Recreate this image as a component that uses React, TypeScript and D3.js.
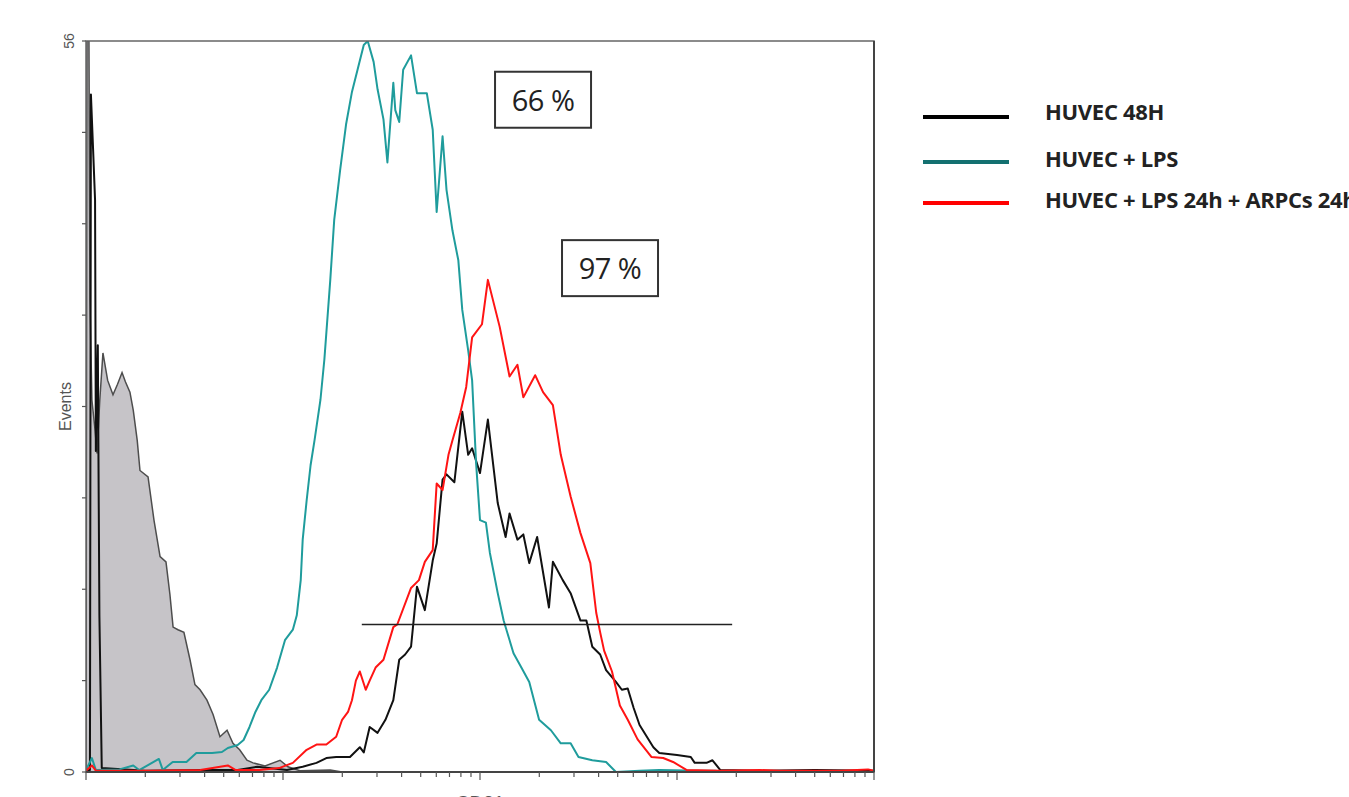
import * as d3 from "d3";
import { useEffect } from "react";

// x values are log10 of fluorescence intensity, y values are event counts
const grayLog = [0, 0.005, 0.015, 0.02, 0.03, 0.046, 0.056, 0.07, 0.086, 0.11, 0.137, 0.16, 0.183, 0.2, 0.223, 0.24, 0.26, 0.274, 0.315, 0.345, 0.376, 0.406, 0.426, 0.442, 0.467, 0.497, 0.528, 0.553, 0.579, 0.614, 0.645, 0.68, 0.716, 0.746, 0.78, 0.817, 0.848, 0.909, 0.985, 1.025, 1.086, 1.24, 1.3];
const grayEvents = [0, 56, 56, 36.2, 28.5, 26.2, 24.4, 28.5, 32.1, 30.0, 28.9, 29.7, 30.6, 29.9, 29.1, 27.7, 25.4, 23.1, 22.6, 19.3, 16.5, 16.1, 13.6, 11.1, 10.9, 10.7, 8.6, 6.7, 6.3, 5.5, 4.4, 2.7, 3.2, 2.2, 1.7, 0.9, 0.7, 0.46, 0.9, 0.4, 0.1, 0.15, 0];

const blackLog = [0, 0.02, 0.025, 0.036, 0.046, 0.05, 0.06, 0.068, 0.08, 0.3, 0.6, 0.77, 0.87, 1.02, 1.1, 1.17, 1.22, 1.27, 1.34, 1.39, 1.41, 1.44, 1.48, 1.52, 1.56, 1.59, 1.62, 1.65, 1.68, 1.72, 1.76, 1.78, 1.81, 1.83, 1.87, 1.91, 1.94, 1.96, 2.0, 2.04, 2.09, 2.13, 2.15, 2.19, 2.22, 2.25, 2.29, 2.35, 2.37, 2.42, 2.46, 2.51, 2.54, 2.57, 2.61, 2.64, 2.69, 2.72, 2.75, 2.78, 2.81, 2.88, 2.91, 3.0, 3.07, 3.09, 3.15, 3.18, 3.22, 3.42, 3.7, 4.0];
const blackEvents = [0.1, 0.15, 51.9, 47.7, 43.8, 24.6, 32.7, 12, 0.3, 0.1, 0.15, 0.15, 0.4, 0.15, 0.4, 0.7, 1.07, 1.15, 1.15, 1.9, 1.5, 3.45, 3.0, 4.0, 5.5, 8.6, 9.0, 9.6, 14.2, 12.4, 16.2, 17.5, 22.4, 22.8, 22.2, 27.6, 24.3, 24.8, 22.9, 27.0, 20.6, 18.0, 19.8, 17.8, 18.2, 16.0, 18.0, 12.6, 16.1, 14.7, 13.7, 11.6, 11.6, 9.6, 9.0, 7.8, 6.9, 6.3, 6.4, 4.9, 3.6, 1.9, 1.46, 1.3, 1.15, 0.7, 0.7, 0.9, 0.15, 0.1, 0.15, 0.1];

const tealLog = [0, 0.03, 0.05, 0.17, 0.24, 0.27, 0.37, 0.39, 0.44, 0.51, 0.56, 0.64, 0.69, 0.72, 0.77, 0.8, 0.83, 0.86, 0.89, 0.93, 0.97, 1.01, 1.05, 1.07, 1.09, 1.1, 1.12, 1.14, 1.16, 1.19, 1.21, 1.24, 1.26, 1.29, 1.32, 1.35, 1.38, 1.41, 1.43, 1.46, 1.48, 1.51, 1.53, 1.56, 1.57, 1.59, 1.61, 1.65, 1.68, 1.73, 1.76, 1.78, 1.81, 1.83, 1.86, 1.89, 1.91, 1.94, 1.96, 1.98, 2.0, 2.03, 2.05, 2.09, 2.12, 2.17, 2.21, 2.25, 2.3, 2.36, 2.41, 2.46, 2.5, 2.57, 2.64, 2.69, 2.81, 2.91, 3.12, 3.2];
const tealEvents = [0.15, 1.07, 0.15, 0.2, 0.5, 0.15, 1.0, 0.15, 0.77, 0.77, 1.46, 1.46, 1.53, 1.84, 2.07, 2.45, 3.45, 4.6, 5.5, 6.3, 8.0, 10.1, 10.9, 12.0, 14.7, 17.8, 20.8, 23.5, 25.4, 28.5, 31.6, 37.7, 42.3, 46.1, 49.6, 52.1, 53.9, 55.7, 56.0, 54.4, 52.3, 50.0, 46.7, 52.8, 50.7, 49.8, 53.8, 54.9, 52.0, 52.0, 49.2, 42.9, 48.7, 44.6, 41.5, 39.2, 35.4, 32.3, 30.0, 23.7, 19.3, 19.1, 16.8, 13.7, 11.6, 9.1, 8.0, 6.9, 4.0, 3.2, 2.2, 2.2, 1.15, 0.9, 0.77, 0, 0.1, 0.15, 0.1, 0.1];

const redLog = [0, 0.03, 0.05, 0.32, 0.58, 0.72, 0.76, 0.88, 0.98, 1.05, 1.12, 1.17, 1.22, 1.27, 1.3, 1.33, 1.35, 1.37, 1.39, 1.42, 1.44, 1.47, 1.51, 1.56, 1.58, 1.65, 1.69, 1.72, 1.76, 1.78, 1.81, 1.84, 1.86, 1.9, 1.93, 1.96, 2.01, 2.04, 2.1, 2.15, 2.19, 2.22, 2.28, 2.32, 2.37, 2.41, 2.46, 2.51, 2.56, 2.59, 2.61, 2.63, 2.67, 2.71, 2.75, 2.8, 2.87, 2.93, 2.98, 3.05, 3.22, 3.42, 3.52, 3.83, 3.97, 4.0];
const redEvents = [0.1, 0.5, 0.1, 0.1, 0.15, 0.5, 0.15, 0.15, 0.3, 0.7, 1.7, 2.1, 2.1, 2.7, 4.0, 4.6, 5.5, 7.0, 7.7, 6.3, 7.0, 8.0, 8.6, 11.1, 11.3, 14.1, 14.7, 16.1, 17.0, 22.1, 21.6, 24.3, 25.4, 27.5, 29.5, 33.3, 34.3, 37.7, 34.1, 30.3, 31.2, 28.7, 30.4, 29.1, 28.1, 24.3, 21.1, 18.3, 16.0, 12.2, 10.7, 9.3, 7.7, 5.1, 4.0, 2.5, 1.15, 1.07, 0.77, 0.15, 0.1, 0.15, 0.1, 0.1, 0.2, 0.1];

const legendLabels = ["HUVEC 48H", "HUVEC + LPS", "HUVEC + LPS 24h + ARPCs 24h"];
const legendColors = ["#000000", "#137070", "#ff0000"];

const gateLog = [1.4, 3.28];
const gateEvents = 11.3;
const boxes = [
  { label: "66 %", log: 2.32, events: 51.5 },
  { label: "97 %", log: 2.66, events: 38.6 },
];

const W = 1349;
const H = 797;
const margin = { left: 86, right: 475, top: 41, bottom: 25 };

export default function App() {
  useEffect(() => {
    document.body.style.margin = "0";
  }, []);

  const x = d3.scaleLog().domain([1, 10000]).range([margin.left, W - margin.right]);
  const y = d3.scaleLinear().domain([0, 56]).range([H - margin.bottom, margin.top]);

  const toPts = (lx: number[], ev: number[]) => lx.map((l, i) => [Math.pow(10, l), ev[i]] as [number, number]);
  const line = d3.line<[number, number]>().x((d) => x(d[0])).y((d) => y(d[1]));
  const area = d3.area<[number, number]>().x((d) => x(d[0])).y0(y(0)).y1((d) => y(d[1]));

  const xTicks = x.ticks();
  const yTicks = d3.range(0, 57, 7);
  const x0 = x.range()[0], x1 = x.range()[1];
  const y0 = y(0), y1 = y(56);

  const series = [
    { pts: toPts(blackLog, blackEvents), color: "#111111" },
    { pts: toPts(tealLog, tealEvents), color: "#1f9c9c" },
    { pts: toPts(redLog, redEvents), color: "#ff1414" },
  ];

  return (
    <svg width={W} height={H} style={{ position: "absolute", left: 0, top: 0, background: "#fff" }}>
      <defs>
        <clipPath id="plot">
          <rect x={x0} y={y1} width={x1 - x0} height={y0 - y1} />
        </clipPath>
      </defs>

      <g clipPath="url(#plot)">
        <path d={area(toPts(grayLog, grayEvents)) || ""} fill="#c6c4c8" stroke="#4d4d4d" strokeWidth={1.5} />
        {series.map((s, i) => (
          <path key={i} d={line(s.pts) || ""} fill="none" stroke={s.color} strokeWidth={2} strokeLinejoin="round" />
        ))}
      </g>

      {/* frame */}
      <rect x={x0} y={y1} width={x1 - x0} height={y0 - y1} fill="none" stroke="#666" strokeWidth={1.5} />
      <line x1={x0} x2={x1} y1={y0} y2={y0} stroke="#444" strokeWidth={2} />
      <line x1={x1} x2={x1} y1={y1} y2={y0} stroke="#444" strokeWidth={2} />

      {/* x ticks */}
      {xTicks.map((t, i) => {
        const major = Math.abs(Math.log10(t) - Math.round(Math.log10(t))) < 1e-9;
        return <line key={i} x1={x(t)} x2={x(t)} y1={y0} y2={y0 + (major ? 8 : 5)} stroke="#555" strokeWidth={1.2} />;
      })}
      {/* y ticks */}
      {yTicks.map((t) => (
        <line key={t} x1={x0 - 4} x2={x0} y1={y(t)} y2={y(t)} stroke="#555" strokeWidth={1.2} />
      ))}

      <g fontFamily="Liberation Sans, Arial, sans-serif" fill="#555">
        <text transform={`translate(74,${y(56)}) rotate(-90)`} textAnchor="middle" fontSize={14}>56</text>
        <text transform={`translate(74,${y(0)}) rotate(-90)`} textAnchor="middle" fontSize={14}>0</text>
        <text transform={`translate(71,${y(28)}) rotate(-90)`} textAnchor="middle" fontSize={16}>Events</text>
        <text x={x(100)} y={H + 12} textAnchor="middle" fontSize={19}>CD31</text>
      </g>

      {/* gate */}
      <line x1={x(Math.pow(10, gateLog[0]))} x2={x(Math.pow(10, gateLog[1]))} y1={y(gateEvents)} y2={y(gateEvents)} stroke="#222" strokeWidth={1.3} />

      {/* percentage boxes */}
      {boxes.map((b) => {
        const cx = x(Math.pow(10, b.log));
        const cy = y(b.events);
        return (
          <g key={b.label}>
            <rect x={cx - 48} y={cy - 28} width={96} height={56} fill="#fff" stroke="#333" strokeWidth={2} />
            <text x={cx} y={cy + 11} textAnchor="middle" fontFamily="Open Sans, sans-serif" fontSize={29} fill="#222" letterSpacing={-0.5}>{b.label}</text>
          </g>
        );
      })}

      {/* legend */}
      {legendLabels.map((l, i) => {
        const ly = [117, 162, 203][i];
        return (
          <g key={l}>
            <line x1={923} x2={1009} y1={ly} y2={ly} stroke={legendColors[i]} strokeWidth={4} />
            <text x={1045} y={ly + 3 + (i > 0 ? 2 : 0)} fontFamily="Open Sans, sans-serif" fontWeight="bold" fontSize={22} fill="#222" letterSpacing={-0.3}>{l}</text>
          </g>
        );
      })}
    </svg>
  );
}
